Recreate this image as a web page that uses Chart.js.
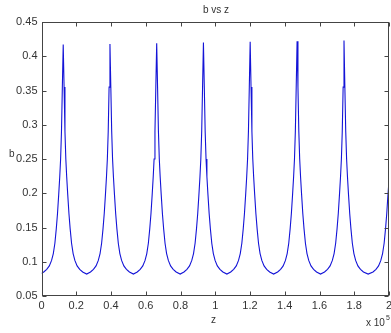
<!DOCTYPE html>
<html>
<head>
<meta charset="utf-8">
<script src="https://cdn.jsdelivr.net/npm/chart.js@4.4.0/dist/chart.umd.min.js"></script>
<style>
  html, body { margin: 0; padding: 0; background: #fff; }
  #wrap { position: relative; width: 391px; height: 333px; overflow: hidden; }
  canvas { position: absolute; left: 0; top: 0; }
  .t { position: absolute; font-family: "Liberation Sans", Arial, sans-serif; color: #333; white-space: nowrap; line-height: 1; }
</style>
</head>
<body>
<div id="wrap">
  <canvas id="c" width="391" height="333"></canvas>
  <div class="t" id="title" style="font-size:10px; left:203px; top:5px;">b vs z</div>
  <div class="t" id="xlab" style="font-size:10px; left:211px; top:315px;">z</div>
  <div class="t" id="ylab" style="font-size:10px; left:9px; top:149px;">b</div>
  <div class="t" id="xexp" style="font-size:10px; left:366px; top:318px;">x 10<span style="font-size:7px; position:relative; top:-6px; left:1px;">5</span></div>
</div>
<script>
// z in units of 1e5
const zValues = [
  0.000, 0.013, 0.030, 0.045, 0.058, 0.068, 0.077, 0.085, 0.092, 0.099, 0.105, 0.110, 0.115, 0.120,
  0.125,
  0.130, 0.135, 0.140, 0.145, 0.151, 0.158, 0.165, 0.173, 0.182, 0.192, 0.205, 0.220, 0.237,
  0.260,
  0.282, 0.299, 0.314, 0.327, 0.337, 0.346, 0.354, 0.361, 0.368, 0.374, 0.379, 0.384, 0.389,
  0.394,
  0.399, 0.404, 0.409, 0.414, 0.420, 0.427, 0.434, 0.442, 0.451, 0.461, 0.474, 0.489, 0.506,
  0.529,
  0.551, 0.568, 0.583, 0.596, 0.606, 0.615, 0.623, 0.630, 0.637, 0.643, 0.648, 0.653, 0.658,
  0.663,
  0.668, 0.673, 0.678, 0.683, 0.689, 0.696, 0.703, 0.711, 0.720, 0.730, 0.743, 0.758, 0.775,
  0.798,
  0.820, 0.837, 0.852, 0.865, 0.875, 0.884, 0.892, 0.899, 0.906, 0.912, 0.917, 0.922, 0.927,
  0.932,
  0.937, 0.942, 0.947, 0.952, 0.958, 0.965, 0.972, 0.980, 0.989, 0.999, 1.012, 1.027, 1.044,
  1.067,
  1.089, 1.106, 1.121, 1.134, 1.144, 1.153, 1.161, 1.168, 1.175, 1.181, 1.186, 1.191, 1.196,
  1.201,
  1.206, 1.211, 1.216, 1.221, 1.227, 1.234, 1.241, 1.249, 1.258, 1.268, 1.281, 1.296, 1.313,
  1.336,
  1.359, 1.376, 1.391, 1.404, 1.414, 1.423, 1.431, 1.438, 1.445, 1.451, 1.456, 1.461, 1.466,
  1.471,
  1.476, 1.481, 1.486, 1.491, 1.497, 1.504, 1.511, 1.519, 1.528, 1.538, 1.551, 1.566, 1.583,
  1.606,
  1.629, 1.646, 1.661, 1.674, 1.684, 1.693, 1.701, 1.708, 1.715, 1.721, 1.726, 1.731, 1.736,
  1.741,
  1.746, 1.751, 1.756, 1.761, 1.767, 1.774, 1.781, 1.789, 1.798, 1.808, 1.821, 1.836, 1.853,
  1.880,
  1.908, 1.925, 1.940, 1.953, 1.963, 1.972, 1.980, 1.987, 1.994, 2.000
];
const bValues = [
  0.083, 0.085, 0.089, 0.094, 0.102, 0.112, 0.127, 0.148, 0.170, 0.198, 0.224, 0.250, 0.290, 0.355,
  0.417,
  0.355, 0.290, 0.250, 0.224, 0.198, 0.170, 0.148, 0.127, 0.112, 0.102, 0.094, 0.089, 0.085,
  0.082,
  0.085, 0.089, 0.094, 0.102, 0.112, 0.127, 0.148, 0.170, 0.198, 0.224, 0.250, 0.290, 0.355,
  0.418,
  0.355, 0.290, 0.250, 0.224, 0.198, 0.170, 0.148, 0.127, 0.112, 0.102, 0.094, 0.089, 0.085,
  0.082,
  0.085, 0.089, 0.094, 0.102, 0.112, 0.127, 0.148, 0.170, 0.198, 0.224, 0.250, 0.290, 0.355,
  0.419,
  0.355, 0.290, 0.250, 0.224, 0.198, 0.170, 0.148, 0.127, 0.112, 0.102, 0.094, 0.089, 0.085,
  0.082,
  0.085, 0.089, 0.094, 0.102, 0.112, 0.127, 0.148, 0.170, 0.198, 0.224, 0.250, 0.290, 0.355,
  0.420,
  0.355, 0.290, 0.250, 0.224, 0.198, 0.170, 0.148, 0.127, 0.112, 0.102, 0.094, 0.089, 0.085,
  0.082,
  0.085, 0.089, 0.094, 0.102, 0.112, 0.127, 0.148, 0.170, 0.198, 0.224, 0.250, 0.290, 0.355,
  0.421,
  0.355, 0.290, 0.250, 0.224, 0.198, 0.170, 0.148, 0.127, 0.112, 0.102, 0.094, 0.089, 0.085,
  0.082,
  0.085, 0.089, 0.094, 0.102, 0.112, 0.127, 0.148, 0.170, 0.198, 0.224, 0.250, 0.290, 0.355,
  0.422,
  0.355, 0.290, 0.250, 0.224, 0.198, 0.170, 0.148, 0.127, 0.112, 0.102, 0.094, 0.089, 0.085,
  0.082,
  0.085, 0.089, 0.094, 0.102, 0.112, 0.127, 0.148, 0.170, 0.198, 0.224, 0.250, 0.290, 0.355,
  0.423,
  0.355, 0.290, 0.250, 0.224, 0.198, 0.170, 0.148, 0.127, 0.112, 0.102, 0.094, 0.089, 0.085,
  0.082,
  0.085, 0.089, 0.094, 0.102, 0.112, 0.127, 0.148, 0.170, 0.198, 0.218
];
const xTickValues = [0, 0.2, 0.4, 0.6, 0.8, 1, 1.2, 1.4, 1.6, 1.8, 2];
const xTickLabels = ["0", "0.2", "0.4", "0.6", "0.8", "1", "1.2", "1.4", "1.6", "1.8", "2"];
const yTickValues = [0.05, 0.1, 0.15, 0.2, 0.25, 0.3, 0.35, 0.4, 0.45];
const yTickLabels = ["0.05", "0.1", "0.15", "0.2", "0.25", "0.3", "0.35", "0.4", "0.45"];

const points = zValues.map((z, i) => ({ x: z, y: bValues[i] }));

const framePlugin = {
  id: 'frame',
  afterDatasetsDraw(chart) {
    const { ctx, chartArea: a, scales } = chart;
    ctx.save();
    ctx.strokeStyle = '#444';
    ctx.lineWidth = 1;
    const L = Math.round(a.left) + 0.5, R = Math.round(a.right) - 0.5;
    const T = Math.round(a.top) + 0.5, B = Math.round(a.bottom) - 0.5;
    ctx.strokeRect(L, T, R - L, B - T);
    const tl = 4;
    ctx.beginPath();
    xTickValues.forEach(v => {
      const px = Math.round(scales.x.getPixelForValue(v)) + 0.5;
      ctx.moveTo(px, B); ctx.lineTo(px, B - tl);
      ctx.moveTo(px, T); ctx.lineTo(px, T + tl);
    });
    yTickValues.forEach(v => {
      const py = Math.round(scales.y.getPixelForValue(v)) + 0.5;
      ctx.moveTo(L, py); ctx.lineTo(L + tl, py);
      ctx.moveTo(R, py); ctx.lineTo(R - tl, py);
    });
    ctx.stroke();
    ctx.restore();
  }
};

new Chart(document.getElementById('c'), {
  type: 'scatter',
  data: {
    datasets: [{
      data: points,
      showLine: true,
      borderColor: 'rgb(20,20,215)',
      borderWidth: 1.1,
      pointRadius: 0,
      tension: 0,
      fill: false
    }]
  },
  options: {
    responsive: false,
    devicePixelRatio: 1,
    animation: false,
    layout: { padding: { top: 22, right: 2, bottom: 0, left: 0 } },
    plugins: { legend: { display: false }, title: { display: false }, tooltip: { enabled: false } },
    scales: {
      x: {
        type: 'linear', min: 0, max: 2,
        afterBuildTicks(s) { s.ticks = xTickValues.map(v => ({ value: v })); },
        afterFit(s) { s.height = 37; s.paddingLeft = 0; s.paddingRight = 0; },
        grid: { display: false, drawTicks: false },
        border: { display: false },
        ticks: {
          padding: 3, color: '#333', maxRotation: 0, autoSkip: false,
          font: { family: 'Liberation Sans', size: 11 },
          callback: (v) => { const i = xTickValues.findIndex(t => Math.abs(t - v) < 1e-9); return i >= 0 ? xTickLabels[i] : ''; }
        }
      },
      y: {
        type: 'linear', min: 0.05, max: 0.45,
        afterBuildTicks(s) { s.ticks = yTickValues.map(v => ({ value: v })); },
        afterFit(s) { s.width = 41.5; s.paddingTop = 0; s.paddingBottom = 0; },
        grid: { display: false, drawTicks: false },
        border: { display: false },
        ticks: {
          padding: 4, color: '#333', autoSkip: false,
          font: { family: 'Liberation Sans', size: 11 },
          callback: (v) => { const i = yTickValues.findIndex(t => Math.abs(t - v) < 1e-9); return i >= 0 ? yTickLabels[i] : ''; }
        }
      }
    }
  },
  plugins: [framePlugin]
});
</script>
</body>
</html>
